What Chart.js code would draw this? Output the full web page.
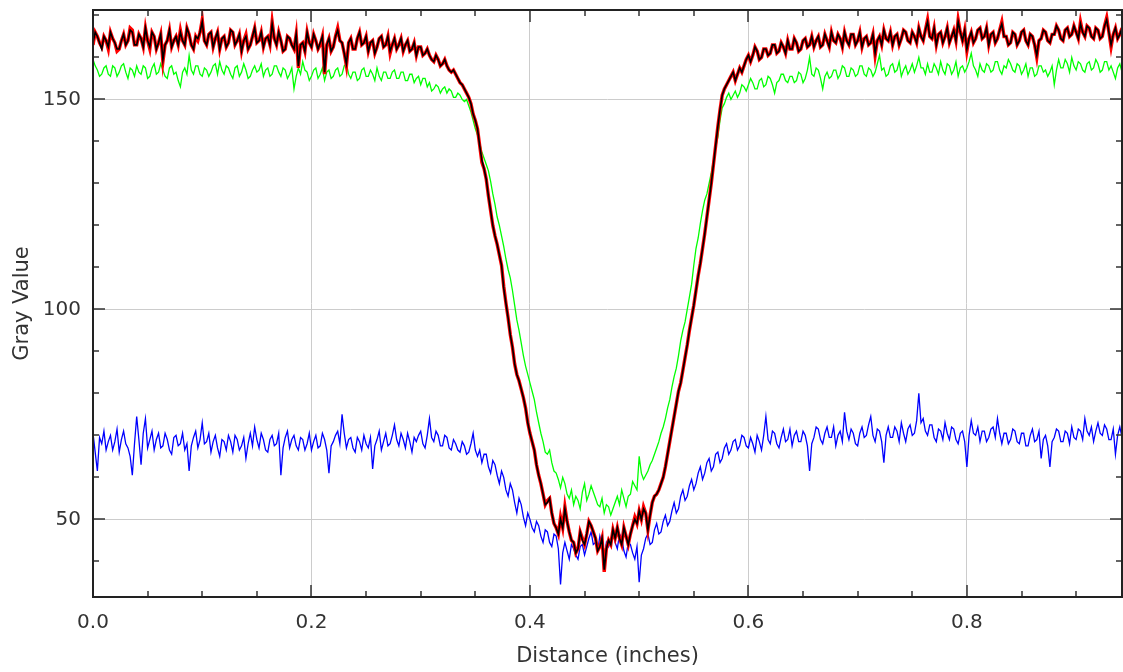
<!DOCTYPE html>
<html>
<head>
<meta charset="utf-8">
<title>Gray Value profile</title>
<script src="https://cdn.jsdelivr.net/npm/chart.js@4.4.1/dist/chart.umd.min.js"></script>
<style>
  html, body { margin: 0; padding: 0; background: #fff; }
  canvas { display: block; }
</style>
</head>
<body>
<canvas id="profileChart" width="1123" height="672"></canvas>
<script>
// distance between samples along the line (inches)
const STEP = 0.002;

// values, one per sample
const redValues = [
  163, 166, 165, 163.5, 162.5, 165, 164, 162, 166, 164.5, 163.5, 161.5, 162, 164, 165.5, 163, 164, 167, 166.5, 163,
  163, 165.5, 164.5, 162.5, 167, 164, 162, 166, 165, 162, 163.5, 165.5, 159, 163, 164, 166.5, 162.5, 164, 165, 163,
  166.5, 164, 163, 167, 165.5, 163, 162, 165, 164, 166, 169, 164, 163, 165.5, 166, 162.5, 164.5, 166, 162, 164.5,
  165, 162.5, 163.5, 166.5, 166, 163, 164, 165.5, 161.5, 164, 165.5, 162, 163, 165, 167, 163.5, 164, 166, 162.5, 164.5,
  165, 163, 168.5, 164.5, 163, 166, 164, 161.5, 162, 165, 164.5, 163, 162, 165.5, 157.5, 163, 163.5, 161.5, 166, 163.5,
  162.5, 165.5, 164, 162, 163, 165, 156, 163, 164.5, 161.5, 162.5, 165, 167, 164, 163.5, 161, 158, 163.5, 164.5, 162,
  162, 164.5, 166, 163, 163.5, 165, 161.5, 163.5, 164, 161, 162.5, 164.5, 165, 162.5, 163, 165, 161, 163, 164.5, 162,
  163, 164.5, 161.5, 163, 164, 161.5, 162, 163.5, 160.5, 162.5, 162.5, 160.5, 161, 162, 160.5, 159.5, 159, 160.5, 159.5, 158,
  158.5, 159.5, 158, 157, 156.5, 157, 156, 155, 154, 153.5, 152.5, 151.5, 150.5, 149, 146.5, 145, 143, 139, 135, 133.5,
  131, 127, 123.5, 120, 117.5, 115.5, 113, 110.5, 105.5, 101.5, 98, 94, 91, 87, 84.5, 83, 81, 79, 76.5, 73,
  70.5, 68.5, 66.5, 63, 60.5, 58.5, 56, 53.5, 54.5, 55, 51.5, 49, 48, 46.5, 50.5, 48, 53, 49.5, 47, 45,
  44.5, 42, 43, 47, 45.5, 44, 46.5, 49.5, 48.5, 47, 45.5, 42.5, 43.5, 45.5, 37.5, 43, 45, 44, 47.5, 45.5,
  48, 45.5, 44, 48, 46, 44, 46.5, 48.5, 50.5, 49, 52, 50, 53, 51.5, 47.5, 51, 54, 55.5, 56, 57,
  58.5, 60, 62.5, 65.5, 68.5, 71.5, 74.5, 77.5, 80.5, 82.5, 85.5, 88.5, 91.5, 95, 98, 101, 104.5, 108, 111, 114.5,
  118, 122, 126, 130, 134.5, 139, 143.5, 147.5, 151, 152.5, 153.5, 154.5, 155.5, 156.5, 154.5, 156, 157.5, 156.5, 158, 159.5,
  160.5, 159, 160.5, 162.5, 161.5, 159.5, 160, 162, 162, 160.5, 161, 163, 163, 161, 161.5, 163.5, 162.5, 161, 164, 162,
  162, 164.5, 163.5, 161.5, 162, 164, 164.5, 162.5, 163, 165, 162.5, 164, 165, 162.5, 163, 165.5, 164, 162.5, 166, 164,
  163.5, 165.5, 164.5, 162.5, 166, 164, 163, 165.5, 165.5, 163, 164, 166, 162.5, 164.5, 165, 163, 163.5, 165.5, 160.5, 164,
  165, 163, 166.5, 164.5, 164, 166, 163, 165, 165.5, 163, 164.5, 166.5, 166, 164, 163.5, 166, 165, 163.5, 167, 165,
  164, 166.5, 169, 165, 164.5, 167, 163, 165.5, 166, 163.5, 165, 167, 163.5, 165, 166.5, 164, 169, 166, 164, 166.5,
  161.5, 164.5, 166, 163.5, 164.5, 166.5, 167, 164.5, 165, 167, 163, 165.5, 166, 163.5, 164.5, 166.5, 168.5, 165, 165, 163,
  163.5, 166, 165.5, 163, 164, 166, 166.5, 164, 163, 165.5, 165, 163, 160, 164, 164.5, 166.5, 166, 164, 163.5, 165.5,
  165.5, 167.5, 166.5, 164.5, 164, 166.5, 167, 165, 165.5, 167.5, 166, 164.5, 168.5, 166, 165, 167.5, 167, 165, 164.5, 167,
  166.5, 164.5, 165, 167.5, 169.5, 166, 162.5, 165.5, 167, 164.5, 165.5, 167, 166
];

const blackValues = [
  163.5, 166, 165, 163.5, 162, 165, 164, 162.5, 166, 164.5, 163.5, 162, 162, 164, 165.5, 163, 164, 166.5, 166, 163,
  163, 165.5, 164.5, 162.5, 167, 164, 162.5, 166, 165, 162, 163.5, 165.5, 159.5, 163, 164, 166.5, 162.5, 164, 165, 163,
  166, 164, 163, 167, 165.5, 163, 162, 165, 164.5, 166, 168.5, 164, 163, 165.5, 166, 162.5, 164.5, 166, 162, 164.5,
  165, 162.5, 163.5, 166.5, 166, 163, 164, 165.5, 161.5, 164, 165, 162, 163, 165, 167, 163.5, 164, 166, 162.5, 164.5,
  165, 163, 168, 164.5, 163, 166, 164, 161.5, 162, 165, 164.5, 163, 162, 165.5, 158, 163, 163.5, 161.5, 166, 163.5,
  162.5, 165.5, 164, 162, 163.5, 165, 156.5, 163, 164.5, 161.5, 162.5, 165, 166.5, 164, 163.5, 161, 158.5, 163.5, 164.5, 162,
  162, 164.5, 166, 163, 163.5, 165, 161.5, 163.5, 164, 161, 162.5, 164.5, 165, 162.5, 163, 165, 161.5, 163, 164.5, 162,
  163, 164.5, 161.5, 163, 164, 161.5, 162, 163.5, 160.5, 162.5, 162.5, 160.5, 161, 162, 160.5, 159.5, 159, 160.5, 159.5, 158,
  158.5, 159.5, 158, 157, 156.5, 157, 156, 155, 154, 153.5, 152.5, 151.5, 150.5, 149, 146.5, 145, 143, 139, 135.5, 133.5,
  131, 127, 123.5, 120, 117.5, 115.5, 113, 110.5, 105, 101.5, 98, 94, 91, 87, 84.5, 83, 81, 79, 76.5, 73,
  70.5, 68.5, 66.5, 63, 60.5, 58.5, 56, 53.5, 54, 55, 51.5, 49, 48, 46.5, 50, 48, 52.5, 49.5, 47, 45,
  44.5, 42, 43, 47, 45, 44, 46.5, 49.5, 48.5, 47, 45.5, 42.5, 43.5, 45.5, 38, 43, 45, 44, 47.5, 45.5,
  48, 45.5, 44, 48, 46, 44, 46.5, 48.5, 50, 49, 52, 50, 52.5, 51.5, 47.5, 51, 54, 55.5, 56, 57,
  58.5, 60, 62.5, 65.5, 68.5, 71.5, 74.5, 77.5, 80.5, 82.5, 85.5, 88.5, 91.5, 95, 98, 101, 104.5, 108, 111, 114.5,
  118, 122, 126, 130, 134.5, 139, 143.5, 147.5, 151, 152.5, 153.5, 154.5, 155.5, 156.5, 154.5, 156, 157.5, 156.5, 158, 159.5,
  160.5, 159, 160.5, 162.5, 161.5, 159.5, 160, 162, 162, 160.5, 161, 163, 163, 161, 161.5, 163.5, 162.5, 161, 164, 162,
  162, 164.5, 163.5, 161.5, 162, 164, 164.5, 162.5, 163, 165, 162.5, 164, 165, 162.5, 163, 165.5, 164, 162.5, 166, 164,
  163.5, 165.5, 164.5, 162.5, 166, 164, 163, 165.5, 165.5, 163, 164, 166, 162.5, 164.5, 165, 163, 163.5, 165.5, 161, 164,
  165, 163, 166.5, 164.5, 164, 166, 163, 165, 165.5, 163, 164.5, 166.5, 166, 164, 163.5, 166, 165, 163.5, 167, 165,
  164, 166.5, 168.5, 165, 164.5, 167, 163, 165.5, 166, 163.5, 165, 167, 163.5, 165, 166.5, 164, 168.5, 166, 164, 166.5,
  162, 164.5, 166, 163.5, 164.5, 166.5, 167, 164.5, 165, 167, 163, 165.5, 166, 163.5, 164.5, 166.5, 168, 165, 165, 163,
  163.5, 166, 165.5, 163, 164, 166, 166.5, 164, 163, 165.5, 165, 163, 160.5, 164, 164.5, 166.5, 166, 164, 163.5, 165.5,
  165.5, 167.5, 166.5, 164.5, 164, 166.5, 167, 165, 165.5, 167.5, 166, 164.5, 168, 166, 165, 167.5, 167, 165, 164.5, 167,
  166.5, 164.5, 165, 167.5, 169, 166, 163, 165.5, 167, 164.5, 165.5, 167, 166
];

const greenValues = [
  159.5, 158, 157, 155.5, 156, 157.5, 158, 156, 155.5, 158, 157.5, 155.5, 156.5, 158, 158.5, 156.5, 155, 157.5, 157, 155.5,
  158, 156.5, 156, 158, 157.5, 155, 155.5, 157.5, 158.5, 156, 156.5, 158.5, 157, 155.5, 155, 157.5, 158, 156, 156.5, 154.5,
  153, 156.5, 157.5, 156, 160.5, 157, 156, 158, 158, 156, 155.5, 157.5, 157, 155.5, 156.5, 158, 158.5, 156, 159, 157,
  156, 158, 157.5, 156, 155, 157.5, 158, 155.5, 156.5, 158.5, 157, 155, 155.5, 157, 158, 156.5, 157, 158.5, 155.5, 157,
  157.5, 155.5, 156, 158, 158, 156.5, 155.5, 157.5, 157, 155, 156, 157.5, 152.5, 155.5, 157.5, 156, 159, 157, 156.5, 154.5,
  155.5, 157, 157.5, 155, 156, 157.5, 154.5, 156.5, 157, 155, 155.5, 157, 157.5, 155.5, 156, 158, 158.5, 156, 155, 156.5,
  156.5, 154.5, 155, 157, 157.5, 155.5, 155.5, 157, 156, 154.5, 157.5, 155.5, 154.5, 156.5, 156.5, 155, 155, 156.5, 157, 155,
  155, 156.5, 156.5, 154.5, 154.5, 156, 156, 154, 155, 155.5, 153.5, 155, 155, 153, 154, 152, 152.5, 153.5, 153, 151.5,
  152.5, 153, 151.5, 152.5, 152, 150.5, 150.5, 151.5, 151, 150, 149.5, 150, 148.5, 147, 145, 143, 141.5, 139.5, 137.5, 136,
  134.5, 133, 130.5, 127.5, 125, 122, 120, 117.5, 115, 112, 109.5, 107.5, 104.5, 101, 97.5, 95, 92, 89, 86.5, 84.5,
  82.5, 80.5, 78.5, 75.5, 73, 70.5, 68.5, 66, 65.5, 66.5, 63.5, 61.5, 61, 59.5, 57.5, 60, 58.5, 56, 55, 57,
  53.5, 55.5, 54.5, 52.5, 56.5, 58.5, 54.5, 56, 58, 56.5, 55, 53.5, 53, 55, 51.5, 53.5, 53, 51, 52.5, 54,
  55.5, 53.5, 57, 55, 53, 55.5, 56, 59, 58, 57, 65, 61, 59.5, 60.5, 61.5, 63, 64, 65.5, 67, 68.5,
  70.5, 72, 74, 76.5, 78.5, 81.5, 84, 86, 89, 92.5, 95, 97, 100, 103, 106, 110.5, 114.5, 117, 120.5, 123.5,
  126, 127.5, 130, 132.5, 135.5, 138.5, 141, 145, 148, 149, 150.5, 151.5, 150, 151, 152, 150.5, 151.5, 153.5, 153, 152,
  153.5, 155, 154, 152.5, 152.5, 154.5, 155, 153, 153.5, 155.5, 155, 153.5, 151.5, 154, 154.5, 156, 156, 154.5, 154, 155.5,
  155.5, 154, 154.5, 156.5, 156, 154, 155, 157, 160, 156, 155.5, 157.5, 157, 155, 152.5, 155.5, 156.5, 155, 155.5, 157,
  157, 155, 156, 158, 157.5, 155.5, 155.5, 157.5, 157, 155.5, 156, 158, 158, 156, 155.5, 157.5, 157, 155.5, 156.5, 158.5,
  160.5, 157, 157.5, 155.5, 156, 158, 158.5, 156.5, 157, 159, 155.5, 157, 158, 156, 157, 158.5, 156.5, 158, 160, 157.5,
  157.5, 156, 158.5, 156.5, 156.5, 158.5, 157.5, 156, 159, 157, 156, 158.5, 158, 156, 157, 159, 155.5, 157.5, 158, 156.5,
  157.5, 159, 161, 158, 157, 155.5, 158.5, 157, 156.5, 158.5, 158, 156.5, 157, 159, 159, 157, 156, 158, 157.5, 159.5,
  158.5, 157, 156.5, 158.5, 158, 156, 157, 158.5, 155.5, 157.5, 157.5, 155.5, 156, 158, 158, 156.5, 157, 155.5, 156.5, 158,
  153.5, 157, 159.5, 157.5, 157.5, 159.5, 158.5, 156.5, 160, 158, 157, 159, 158.5, 157, 156.5, 158.5, 159, 157, 157.5, 159.5,
  158.5, 156.5, 157, 159, 159, 157, 158, 156.5, 155, 157.5, 158.5, 156.5, 157.5
];

const blueValues = [
  70.5, 66, 61.5, 69.5, 68, 71, 66.5, 68.5, 70, 66.5, 68.5, 71.5, 66, 69, 71, 68, 67, 65, 60.5, 68,
  74.5, 69, 63, 70.5, 74, 67, 69, 71, 66.5, 69, 70.5, 67, 67.5, 70.5, 69, 66.5, 65.5, 69.5, 70, 67.5,
  68, 70.5, 66.5, 68, 61.5, 67.5, 69.5, 71, 67, 69, 73, 68, 68.5, 70.5, 66, 68.5, 70, 67, 65, 69,
  68.5, 66.5, 70, 68.5, 66, 70, 69, 66.5, 67.5, 69.5, 64.5, 68, 70.5, 67.5, 72, 69, 67, 70.5, 69, 66.5,
  66, 69, 70, 67.5, 68, 70.5, 60.5, 67, 69.5, 71, 67, 69, 70, 67.5, 66.5, 69.5, 69, 66.5, 68, 70.5,
  66.5, 68.5, 70, 67, 67.5, 70.5, 69, 66.5, 61, 67.5, 68.5, 70, 71, 68, 75, 70.5, 67, 69, 69.5, 67,
  66, 69.5, 68.5, 66.5, 70, 68, 67, 69.5, 62, 67.5, 69, 71, 66.5, 68.5, 70.5, 67.5, 68, 70, 72.5, 69,
  67.5, 70.5, 69, 67, 70.5, 68.5, 66, 69.5, 68.5, 70, 71, 68, 67, 70, 74, 69.5, 68.5, 71, 70, 67.5,
  67.5, 70, 69.5, 67, 66.5, 69, 68, 66.5, 66, 68.5, 67.5, 65.5, 66, 68, 70.5, 66.5, 65, 66.5, 63.5, 65.5,
  65.5, 62.5, 61, 64, 63, 60.5, 58.5, 61.5, 60, 57, 55.5, 58.5, 57, 54, 51.5, 55, 53.5, 50.5, 48.5, 51.5,
  50, 48, 47, 49.5, 48.5, 46, 44.5, 47.5, 47, 44.5, 43.5, 46.5, 46, 43, 34.5, 42, 44.5, 42.5, 40.5, 44,
  43, 41.5, 40.5, 43.5, 44, 41.5, 43.5, 45.5, 47, 44, 44.5, 42.5, 46, 43.5, 41, 44.5, 43.5, 45, 47.5, 44.5,
  43, 46.5, 45.5, 42.5, 41, 44.5, 44, 42, 40.5, 43.5, 35, 41.5, 43, 45.5, 46.5, 44, 44.5, 47.5, 49, 46.5,
  47, 49.5, 51, 48.5, 49.5, 52, 54, 51.5, 52.5, 55.5, 57, 54.5, 55.5, 58, 59.5, 57, 58.5, 61, 62.5, 59.5,
  61, 63.5, 64.5, 61.5, 62.5, 65.5, 66, 63.5, 64.5, 67, 68, 65.5, 66.5, 68.5, 69, 66.5, 67.5, 70, 69.5, 67.5,
  67, 69.5, 68, 66, 70, 68.5, 66.5, 70, 74.5, 69, 68, 71, 70.5, 68, 67, 69.5, 71.5, 68.5, 69, 71.5,
  67.5, 70, 71, 68.5, 68.5, 71, 70, 67.5, 61.5, 68, 69.5, 72, 71.5, 69, 68, 70.5, 72, 69.5, 69.5, 72,
  67.5, 70, 71, 68.5, 75.5, 71, 69, 71.5, 70.5, 68, 67.5, 70.5, 72, 69.5, 70, 72.5, 74.5, 70, 68.5, 71.5,
  71, 68.5, 63.5, 70, 72, 69.5, 69.5, 72, 71, 68.5, 73, 70.5, 68.5, 71.5, 72.5, 70, 70.5, 73.5, 80, 73,
  74, 71, 70, 72.5, 72.5, 69.5, 68.5, 71.5, 71, 69, 73, 70.5, 69, 72, 71.5, 69, 68, 70.5, 71, 68.5,
  62.5, 70, 73.5, 70.5, 70, 72, 68.5, 71, 71, 68.5, 69.5, 71.5, 72, 69.5, 74, 70.5, 68, 70.5, 70.5, 68,
  69, 71.5, 71, 68.5, 68, 70.5, 70.5, 67.5, 67.5, 70, 71.5, 68.5, 69, 71, 64.5, 69, 70, 67.5, 62.5, 68.5,
  69.5, 71.5, 71, 68.5, 68.5, 71, 70.5, 68, 72, 69.5, 69, 71.5, 71, 69, 74, 71, 70, 72, 68.5, 71,
  73, 70.5, 70, 72.5, 71.5, 69, 69, 71.5, 65.5, 70, 72, 69.5, 70.5
];

// labelled ticks and the small inward tick marks
const xTickValues = [0, 0.2, 0.4, 0.6, 0.8];
const yTickValues = [50, 100, 150];
const xTickMarks = [0.05, 0.1, 0.15, 0.2, 0.25, 0.3, 0.35, 0.4, 0.45, 0.5, 0.55, 0.6, 0.65, 0.7, 0.75, 0.8, 0.85, 0.9];
const yTickMarks = [40, 50, 60, 70, 80, 90, 100, 110, 120, 130, 140, 150, 160, 170];

function toPoints(values) {
  return values.map((v, i) => ({ x: i * STEP, y: v }));
}

const labelFont = { family: 'DejaVu Sans', size: 20 };
const titleFont = { family: 'DejaVu Sans', size: 21 };

// frame with inward ticks on all four sides
const frameTicks = {
  id: 'frameTicks',
  afterDatasetsDraw(chart) {
    const { ctx, chartArea: a, scales: { x, y } } = chart;
    ctx.save();
    ctx.strokeStyle = '#333';
    ctx.lineWidth = 1.5;
    ctx.beginPath();
    xTickMarks.forEach(v => {
      const px = Math.round(x.getPixelForValue(v));
      const len = xTickValues.some(t => Math.abs(t - v) < 1e-6) ? 12 : 6;
      ctx.moveTo(px, a.bottom); ctx.lineTo(px, a.bottom - len);
      ctx.moveTo(px, a.top); ctx.lineTo(px, a.top + len);
    });
    yTickMarks.forEach(v => {
      const py = Math.round(y.getPixelForValue(v));
      const len = yTickValues.includes(v) ? 12 : 6;
      ctx.moveTo(a.left, py); ctx.lineTo(a.left + len, py);
      ctx.moveTo(a.right, py); ctx.lineTo(a.right - len, py);
    });
    ctx.stroke();
    ctx.strokeStyle = '#222';
    ctx.lineWidth = 2;
    ctx.strokeRect(a.left, a.top, a.right - a.left, a.bottom - a.top);
    ctx.restore();
  }
};

new Chart(document.getElementById('profileChart'), {
  type: 'line',
  data: {
    datasets: [
      { label: 'Black', data: toPoints(blackValues), borderColor: '#000000', borderWidth: 1.6 },
      { label: 'Red', data: toPoints(redValues), borderColor: '#ff0000', borderWidth: 3.4 },
      { label: 'Green', data: toPoints(greenValues), borderColor: '#00ff00', borderWidth: 1.3 },
      { label: 'Blue', data: toPoints(blueValues), borderColor: '#0000ff', borderWidth: 1.3 }
    ]
  },
  options: {
    responsive: false,
    animation: false,
    events: [],
    layout: { padding: { top: 10, right: 1, left: 0, bottom: 0 } },
    elements: {
      point: { radius: 0 },
      line: { tension: 0, borderJoinStyle: 'miter' }
    },
    plugins: {
      legend: { display: false },
      tooltip: { enabled: false }
    },
    scales: {
      x: {
        type: 'linear',
        min: 0,
        max: 0.942,
        afterFit: s => { s.height = 75; s.paddingLeft = 0; s.paddingRight = 0; },
        afterBuildTicks: s => { s.ticks = xTickValues.map(v => ({ value: v })); },
        grid: { color: '#cccccc', lineWidth: 1, drawTicks: false },
        border: { display: false },
        ticks: {
          padding: 14,
          color: '#333',
          font: labelFont,
          maxRotation: 0,
          autoSkip: false,
          callback: v => Number(v).toFixed(1)
        },
        title: {
          display: true,
          text: 'Distance (inches)',
          color: '#333',
          font: titleFont,
          padding: { top: 0, bottom: 3 }
        }
      },
      y: {
        type: 'linear',
        min: 31.5,
        max: 171.3,
        afterFit: s => { s.width = 93; s.paddingTop = 0; s.paddingBottom = 0; },
        afterBuildTicks: s => { s.ticks = yTickValues.map(v => ({ value: v })); },
        grid: { color: '#cccccc', lineWidth: 1, drawTicks: false },
        border: { display: false },
        ticks: {
          padding: 12,
          color: '#333',
          font: labelFont,
          callback: v => String(v)
        },
        title: {
          display: true,
          text: 'Gray Value',
          color: '#333',
          font: titleFont,
          padding: { top: 10, bottom: 0 }
        }
      }
    }
  },
  plugins: [frameTicks]
});
</script>
</body>
</html>
